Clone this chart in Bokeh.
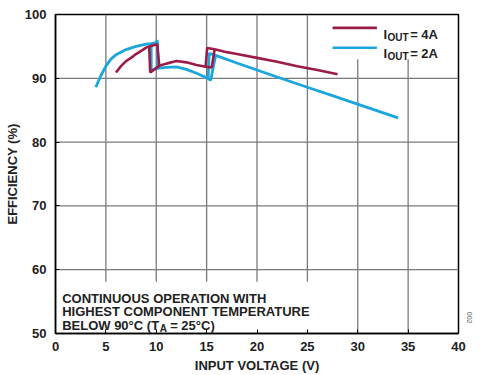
from bokeh.embed import file_html
from bokeh.models import FixedTicker, Label, Range1d, Title
from bokeh.plotting import figure
from bokeh.resources import INLINE

# ---- data -----------------------------------------------------------------
# IOUT = 4 A: sweep with increasing VIN (mode changes near 10 V and 15 V)
vin_4a = [6.0, 6.5, 7.0, 7.5, 8.0, 8.5, 9.0, 9.3, 10.1, 10.3, 11.0, 12.0,
          13.0, 14.0, 14.9, 15.5, 15.8, 17.0, 18.0, 20.0, 22.0, 24.0, 26.0, 28.0]
eff_4a = [90.9, 91.9, 92.7, 93.2, 93.8, 94.3, 94.8, 95.0, 95.35, 91.95, 92.3,
          92.7, 92.5, 92.1, 91.8, 91.7, 94.55, 94.1, 93.8, 93.2, 92.6, 91.9,
          91.3, 90.65]
# IOUT = 4 A: return paths of the two hysteresis loops
vin_4a_ret10 = [10.3, 9.4, 9.3]
eff_4a_ret10 = [91.95, 90.9, 95.0]
vin_4a_ret15 = [15.8, 15.05, 14.9]
eff_4a_ret15 = [94.55, 94.75, 91.8]

# IOUT = 2 A: sweep with increasing VIN
vin_2a = [4.0, 4.5, 5.0, 5.5, 6.0, 7.0, 8.0, 9.0, 9.5, 10.0, 10.1, 10.2,
          11.0, 12.0, 13.0, 14.0, 15.0, 15.4, 15.9, 18.0, 20.0, 22.0, 25.0,
          28.0, 31.0, 34.0]
eff_2a = [88.6, 90.4, 91.9, 93.0, 93.7, 94.5, 95.0, 95.35, 95.45, 95.6, 96.0,
          91.6, 91.7, 91.8, 91.4, 90.8, 90.1, 89.7, 93.6, 92.4, 91.3, 90.2,
          88.6, 87.0, 85.4, 83.8]
# IOUT = 2 A: return paths of the hysteresis loops
vin_2a_ret10 = [10.2, 9.5, 9.5]
eff_2a_ret10 = [91.6, 91.3, 95.45]
vin_2a_ret15 = [15.9, 15.25, 15.15]
eff_2a_ret15 = [93.6, 93.9, 90.0]

x_ticks = [0, 5, 10, 15, 20, 25, 30, 35, 40]
y_ticks = [50, 60, 70, 80, 90, 100]

RED = "#9C1C47"
BLUE = "#1BA6DD"
GRID = "#7a7a7a"
FONT = "Liberation Sans"
X_MIN, X_MAX = x_ticks[0], x_ticks[-1]
Y_MIN, Y_MAX = y_ticks[0], y_ticks[-1]

# clear areas kept free of grid lines: the note (lower left) and the key
NOTE_RIGHT, NOTE_TOP = 27.0, 58.1
KEY_LEFT, KEY_BOTTOM = 26.1, 93.0

# ---- figure ---------------------------------------------------------------
p = figure(width=487, height=375, output_backend="svg", toolbar_location=None,
           x_range=Range1d(X_MIN, X_MAX), y_range=Range1d(Y_MIN, Y_MAX))
p.min_border_left = 55
p.min_border_right = 29
p.min_border_top = 14
p.min_border_bottom = 40
p.outline_line_color = "black"
p.outline_line_width = 1.5
p.outline_line_alpha = 1.0
p.grid.visible = False

for ax, ticks in ((p.xaxis, x_ticks), (p.yaxis, y_ticks)):
    ax.ticker = FixedTicker(ticks=ticks)
    ax.axis_line_color = "black"
    ax.axis_line_width = 1.5
    ax.major_tick_in = 4
    ax.major_tick_out = 0
    ax.major_label_text_font = FONT
    ax.major_label_text_font_style = "bold"
    ax.major_label_text_font_size = "13px"
    ax.major_label_text_color = "#222222"
    ax.axis_label_text_font = FONT
    ax.axis_label_text_font_style = "bold"
    ax.axis_label_text_font_size = "13px"
    ax.axis_label_text_color = "#222222"

p.xaxis.axis_label = "INPUT VOLTAGE (V)"
p.yaxis.axis_label = "EFFICIENCY (%)"
p.xaxis.major_label_standoff = 8
p.xaxis.axis_label_standoff = 4
p.yaxis.major_label_standoff = 9
p.yaxis.axis_label_standoff = 2

# grid lines at the inner ticks, interrupted behind the note and the key
for x in x_ticks[1:-1]:
    y_lo = NOTE_TOP if x < NOTE_RIGHT else Y_MIN
    y_hi = KEY_BOTTOM if x > KEY_LEFT else Y_MAX
    p.line([x, x], [y_lo, y_hi], line_color=GRID, line_width=1.3)
for y in y_ticks[1:-1]:
    p.line([X_MIN, X_MAX], [y, y], line_color=GRID, line_width=1.3)

# ---- curves ---------------------------------------------------------------
for xs, ys in ((vin_2a, eff_2a), (vin_2a_ret10, eff_2a_ret10),
               (vin_2a_ret15, eff_2a_ret15)):
    p.line(xs, ys, line_color=BLUE, line_width=2.8)
for xs, ys in ((vin_4a, eff_4a), (vin_4a_ret10, eff_4a_ret10),
               (vin_4a_ret15, eff_4a_ret15)):
    p.line(xs, ys, line_color=RED, line_width=2.6)


def add_text(x, y, text, size="13px", dx=0, dy=0, color="#222222"):
    p.add_layout(Label(x=x, y=y, x_offset=dx, y_offset=dy, text=text,
                       text_font=FONT, text_font_style="bold",
                       text_font_size=size, text_color=color,
                       text_align="left", text_baseline="alphabetic"))


# ---- key ------------------------------------------------------------------
key_rows = [(RED, "4A", 97.9, 96.88), (BLUE, "2A", 94.8, 93.85)]
for color, amps, y_line, y_text in key_rows:
    p.line([27.5, 31.9], [y_line, y_line], line_color=color, line_width=2.6)
    add_text(32.55, y_text, "I")
    add_text(32.55, y_text, "OUT", size="10px", dx=4.0, dy=-3)
    add_text(32.55, y_text, "= " + amps, dx=26.7)

# ---- note -----------------------------------------------------------------
add_text(0.66, 55.56, "CONTINUOUS OPERATION WITH")
add_text(0.66, 53.47, "HIGHEST COMPONENT TEMPERATURE")
add_text(0.66, 51.29, "BELOW 90°C (T")
add_text(0.66, 51.29, "A", size="10px", dx=97.5, dy=-3)
add_text(0.66, 51.29, "= 25°C)", dx=108.0)

# figure number along the right edge
p.add_layout(Title(text="002", text_font=FONT, text_font_size="7px",
                   text_font_style="normal", text_color="#666666",
                   align="right", offset=10, standoff=16), "right")

open("out.html", "w").write(file_html(p, INLINE))
